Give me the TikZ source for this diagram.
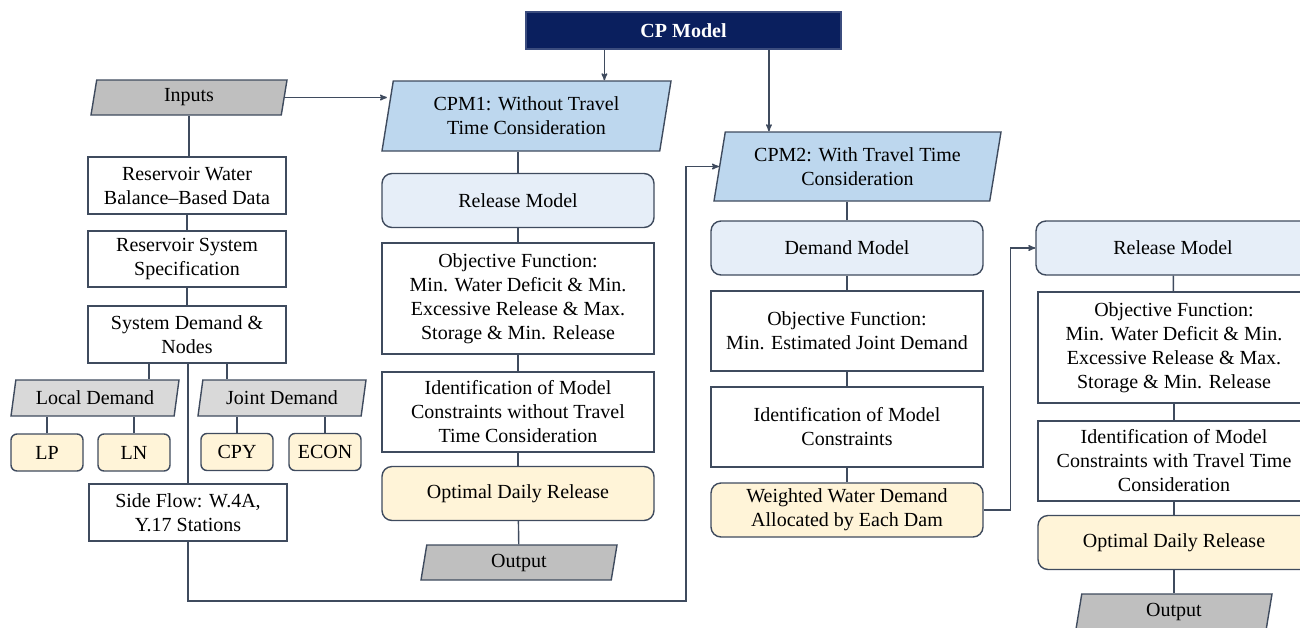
\documentclass[tikz,border=0pt]{standalone}
\usepackage{fontspec}
\setmainfont{Liberation Serif}
\usepackage{tikz}
\usetikzlibrary{arrows,shapes.geometric,calc}
\tikzset{>=stealth'}
\definecolor{edge}{HTML}{3F4B5E}
\definecolor{navy}{HTML}{0A1F5E}
\definecolor{paraB}{HTML}{BDD7EE}
\definecolor{modelB}{HTML}{E6EEF8}
\definecolor{cream}{HTML}{FFF4D8}
\definecolor{grayD}{HTML}{BFBFBF}
\definecolor{grayL}{HTML}{D9D9D9}
\tikzset{
  base/.style={draw=edge,line width=1.4pt,align=center,inner sep=2pt,
    font=\fontsize{20}{24}\selectfont},
  box/.style={base,rectangle,minimum width=198pt,minimum height=57pt},
  wide/.style={base,rectangle,minimum width=272pt},
  model/.style={base,rectangle,rounded corners=10pt,fill=modelB,
    minimum width=272pt,minimum height=54pt},
  result/.style={base,rectangle,rounded corners=10pt,fill=cream,
    minimum width=272pt,minimum height=54pt},
  leaf/.style={base,rectangle,rounded corners=6pt,fill=cream,
    minimum width=72pt,minimum height=37pt},
  para/.style={base,trapezium,trapezium left angle=75,trapezium right angle=105,
    trapezium stretches body},
  cpbox/.style={base,draw=navy!80!white,fill=navy,text=white,font=\fontsize{20}{24}\selectfont\bfseries,
    minimum width=315pt,minimum height=37pt},
  link/.style={draw=edge,line width=1.4pt}
}
\begin{document}
\begin{tikzpicture}[x=1pt,y=-1pt]
\useasboundingbox (0,0) rectangle (1300,627);
\node[cpbox] (cp) at (683.5,30.5) {CP Model};
\node[para,fill=grayD,minimum width=196pt,minimum height=35pt] (in) at (189,97.5) {Inputs};
\node[box] (rwb) at (187,185.5) {Reservoir Water\\Balance--Based Data};
\node[box,minimum height=56pt] (rss) at (187,259) {Reservoir System\\Specification};
\node[box] (sdn) at (187,334.5) {System Demand \&\\Nodes};
\node[para,fill=grayL,minimum width=168pt,minimum height=36pt] (ld) at (95,398) {Local Demand};
\node[para,fill=grayL,minimum width=168pt,minimum height=36pt] (jd) at (282,398) {Joint Demand};
\node[leaf] (lp) at (47,452.5) {LP};
\node[leaf] (ln) at (134,452.5) {LN};
\node[leaf] (cpy) at (237,452) {CPY};
\node[leaf] (econ) at (325,452) {ECON};
\node[box] (sf) at (188,512.5) {Side Flow: W.4A,\\Y.17 Stations};
\node[para,fill=paraB,minimum width=289pt,minimum height=70pt] (cpm1) at (526.5,116) {CPM1: Without Travel\\Time Consideration};
\node[model] (rm1) at (518,200.5) {Release Model};
\node[wide,minimum height=111pt] (of1) at (518,298.5) {Objective Function:\\Min. Water Deficit \& Min.\\Excessive Release \& Max.\\Storage \& Min. Release};
\node[wide,minimum height=80pt] (ic1) at (518,412) {Identification of Model\\Constraints without Travel\\Time Consideration};
\node[result] (odr1) at (518,493.5) {Optimal Daily Release};
\node[para,fill=grayD,minimum width=196pt,minimum height=35pt] (out1) at (519,562.5) {Output};
\node[para,fill=paraB,minimum width=287pt,minimum height=69pt] (cpm2) at (857.5,166.5) {CPM2: With Travel Time\\Consideration};
\node[model] (dm) at (847,248) {Demand Model};
\node[wide,minimum height=80pt] (of2) at (847,331) {Objective Function:\\Min. Estimated Joint Demand};
\node[wide,minimum height=80pt] (ic2) at (847,427) {Identification of Model\\Constraints};
\node[result] (wwd) at (847,510) {Weighted Water Demand\\Allocated by Each Dam};
\node[model,minimum width=274pt] (rm2) at (1173,248) {Release Model};
\node[wide,minimum height=111pt] (of3) at (1174,347.5) {Objective Function:\\Min. Water Deficit \& Min.\\Excessive Release \& Max.\\Storage \& Min. Release};
\node[wide,minimum height=80pt] (ic3) at (1174,461) {Identification of Model\\Constraints with Travel Time\\Consideration};
\node[result] (odr2) at (1174,542.5) {Optimal Daily Release};
\node[para,fill=grayD,minimum width=196pt,minimum height=35pt] (out2) at (1174,611.5) {Output};
\coordinate (cpL) at ($(cp.south west)!.25!(cp.south east)$);
\coordinate (cpR) at ($(cp.south west)!.77!(cp.south east)$);
\coordinate (sdL) at ($(sdn.south west)!.31!(sdn.south east)$);
\coordinate (sdR) at ($(sdn.south west)!.70!(sdn.south east)$);
\coordinate (sfturn) at (686,601);
\draw[link,->] (cpL) -- (cpL |- cpm1.north);
\draw[link,->] (cpR) -- (cpR |- cpm2.north);
\draw[link,->] (in.east) -- (cpm1.west |- in.east);
\draw[link] (in.south) -- (in.south |- rwb.north);
\draw[link] (rwb) -- (rss);
\draw[link] (rss) -- (sdn);
\draw[link] (sdL) -- (sdL |- ld.north);
\draw[link] (sdR) -- (sdR |- jd.north);
\draw[link] (lp.north) -- (lp.north |- ld.south);
\draw[link] (ln.north) -- (ln.north |- ld.south);
\draw[link] (cpy.north) -- (cpy.north |- jd.south);
\draw[link] (econ.north) -- (econ.north |- jd.south);
\draw[link] (sf.north) -- (sf.north |- sdn.south);
\draw[link,->] (sf.south) |- (sfturn) |- (cpm2.west);
\draw[link] (rm1.north) -- (rm1.north |- cpm1.south);
\draw[link] (rm1) -- (of1);
\draw[link] (of1) -- (ic1);
\draw[link] (ic1) -- (odr1);
\draw[link] (odr1) -- (out1);
\draw[link] (dm.north) -- (dm.north |- cpm2.south);
\draw[link] (dm) -- (of2);
\draw[link] (of2) -- (ic2);
\draw[link] (ic2) -- (wwd);
\draw[link,->] (wwd.east) -- ++(27,0) |- (rm2.west);
\draw[link] (rm2) -- (of3);
\draw[link] (of3) -- (ic3);
\draw[link] (ic3) -- (odr2);
\draw[link] (odr2) -- (out2);
\end{tikzpicture}
\end{document}
